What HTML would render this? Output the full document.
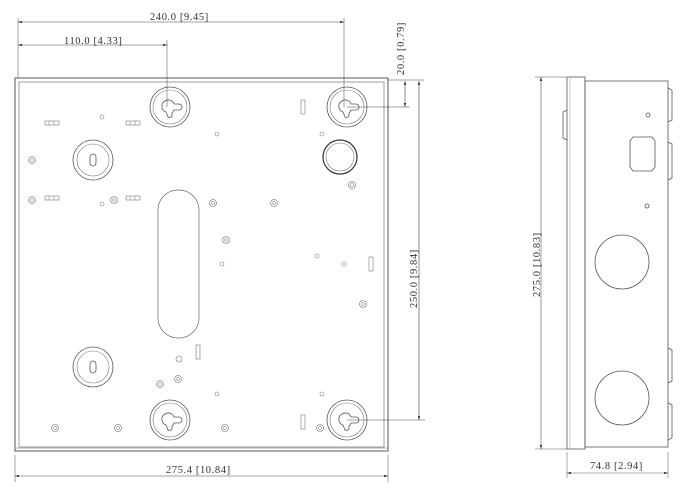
<!DOCTYPE html>
<html><head><meta charset="utf-8"><style>
html,body{margin:0;padding:0;background:#fff;width:700px;height:495px;overflow:hidden}
svg{display:block}
text{font-family:"Liberation Serif","DejaVu Serif",serif;font-size:10.5px;letter-spacing:0.6px;fill:#333}
</style></head><body>
<svg width="700" height="495" viewBox="0 0 700 495" xmlns="http://www.w3.org/2000/svg">
<defs>
<marker id="a" viewBox="0 0 10 6" refX="10" refY="3" markerWidth="7" markerHeight="4" orient="auto-start-reverse"><path d="M0 0L10 3L0 6z" fill="#333"/></marker>
<g id="kh"><circle r="20" fill="none" stroke="#555" stroke-width="0.8"/><circle r="17" fill="none" stroke="#777" stroke-width="0.6"/><path d="M-5 -6 A6 6 0 0 1 4 -3 L9 -3 A3 3 0 0 1 9 3 L4 3 A6 6 0 0 1 2 6 L2 9 A3 3 0 0 1 -2 10 L-4 5 A6 6 0 0 1 -5 -6z" fill="none" stroke="#555" stroke-width="0.8"/></g>
<g id="ov"><circle r="20" fill="none" stroke="#555" stroke-width="0.8"/><circle r="16" fill="none" stroke="#777" stroke-width="0.6"/><rect x="-3" y="-6" width="6" height="12" rx="3" fill="none" stroke="#555" stroke-width="0.8"/></g>
<g id="hx"><circle r="3.5" fill="none" stroke="#666" stroke-width="0.6"/><circle r="1.5" fill="none" stroke="#666" stroke-width="0.5"/></g>
<g id="sl"><rect x="-7" y="-2" width="14" height="4" fill="none" stroke="#777" stroke-width="0.6"/><line x1="-3" y1="-2" x2="-3" y2="2" stroke="#777" stroke-width="0.5"/><line x1="2" y1="-2" x2="2" y2="2" stroke="#777" stroke-width="0.5"/></g>
<g id="vs"><rect x="-2" y="-7" width="4" height="14" fill="none" stroke="#777" stroke-width="0.6"/></g>
</defs>
<g stroke="#444" stroke-width="0.7" fill="none">
<rect x="15" y="78" width="373" height="373" stroke="#555" stroke-width="1"/>
<rect x="19" y="82" width="365" height="365" stroke="#888" stroke-width="0.8"/>
<line x1="15" y1="448" x2="388" y2="448" stroke="#999"/>
<rect x="158" y="190" width="41" height="148" rx="20" stroke="#666"/>
<line x1="18" y1="22" x2="344" y2="22" marker-start="url(#a)" marker-end="url(#a)" stroke-width="0.6"/>
<line x1="18" y1="45" x2="167" y2="45" marker-start="url(#a)" marker-end="url(#a)" stroke-width="0.6"/>
<line x1="18" y1="18" x2="18" y2="78" stroke-width="0.5"/>
<line x1="344" y1="18" x2="344" y2="107" stroke-width="0.5"/>
<line x1="167" y1="40" x2="167" y2="107" stroke-width="0.5"/>
<line x1="388" y1="80" x2="424" y2="80" stroke-width="0.5"/>
<line x1="347" y1="107" x2="410" y2="107" stroke-width="0.5"/>
<line x1="347" y1="420" x2="425" y2="420" stroke-width="0.5"/>
<line x1="405" y1="81" x2="405" y2="107" marker-start="url(#a)" marker-end="url(#a)" stroke-width="0.6"/>
<line x1="419" y1="81" x2="419" y2="420" marker-start="url(#a)" marker-end="url(#a)" stroke-width="0.6"/>
<line x1="15" y1="455" x2="15" y2="482" stroke-width="0.5"/>
<line x1="388" y1="455" x2="388" y2="482" stroke-width="0.5"/>
<line x1="15" y1="476" x2="388" y2="476" marker-start="url(#a)" marker-end="url(#a)" stroke-width="0.6"/>
</g>
<use href="#kh" x="170" y="107"/><use href="#kh" x="347" y="107"/>
<use href="#kh" x="170" y="420"/><use href="#kh" x="347" y="420"/>
<use href="#ov" x="93" y="160"/><use href="#ov" x="93" y="367"/>
<circle cx="340" cy="157" r="17" fill="none" stroke="#333" stroke-width="1.2"/>
<circle cx="340" cy="157" r="14" fill="none" stroke="#777" stroke-width="0.6"/>
<use href="#hx" x="32" y="160"/><use href="#hx" x="32" y="200"/><use href="#hx" x="114" y="200"/>
<use href="#hx" x="213" y="203"/><use href="#hx" x="274" y="203"/><use href="#hx" x="352" y="185"/>
<use href="#hx" x="226" y="240"/><use href="#hx" x="363" y="304"/><use href="#hx" x="160" y="384"/>
<use href="#hx" x="55" y="428"/><use href="#hx" x="118" y="428"/><use href="#hx" x="225" y="428"/><use href="#hx" x="320" y="428"/>
<use href="#hx" x="178" y="379"/>
<g fill="none" stroke="#777" stroke-width="0.6">
<circle cx="102" cy="117" r="2"/><circle cx="217" cy="134" r="2"/><circle cx="322" cy="134" r="2"/><circle cx="102" cy="204" r="2"/>
<circle cx="222" cy="264" r="2"/><circle cx="317" cy="256" r="2"/><circle cx="344" cy="264" r="2"/><circle cx="179" cy="359" r="3"/>
<circle cx="217" cy="394" r="2"/><circle cx="322" cy="394" r="2"/></g>
<use href="#sl" x="52" y="123"/><use href="#sl" x="133" y="123"/><use href="#sl" x="52" y="198"/><use href="#sl" x="133" y="198"/>
<use href="#vs" x="303" y="107"/><use href="#vs" x="371" y="264"/><use href="#vs" x="198" y="352"/><use href="#vs" x="303" y="422"/>
<text x="150" y="20">240.0 [9.45]</text>
<text x="64" y="44">110.0 [4.33]</text>
<text transform="translate(404,75) rotate(-90)">20.0 [0.79]</text>
<text transform="translate(417,308) rotate(-90)">250.0 [9.84]</text>
<text x="166" y="473">275.4 [10.84]</text>
<g stroke="#555" stroke-width="0.8" fill="none">
<rect x="567" y="77" width="18" height="372"/>
<rect x="585" y="81" width="83" height="366"/>
<line x1="570" y1="77" x2="570" y2="449" stroke="#999" stroke-width="0.5"/>
<path d="M567 110 L563 112 L563 138 L567 140"/>
<path d="M668 88 L672 90 L672 120 L668 122"/><path d="M668 142 L672 144 L672 178 L668 180"/>
<path d="M668 348 L672 350 L672 381 L668 383"/><path d="M668 403 L672 405 L672 438 L668 440"/>
<path d="M633 137 L652 137 L655 141 L655 167 L652 171 L633 171 L630 167 L630 141z"/>
<circle cx="648" cy="115" r="2"/><circle cx="647" cy="206" r="2"/>
<circle cx="622" cy="262" r="27"/><circle cx="622" cy="398" r="27"/>
<line x1="535" y1="77" x2="567" y2="77" stroke-width="0.5"/>
<line x1="535" y1="449" x2="567" y2="449" stroke-width="0.5"/>
<line x1="541" y1="77" x2="541" y2="449" marker-start="url(#a)" marker-end="url(#a)" stroke-width="0.6"/>
<line x1="567" y1="452" x2="567" y2="478" stroke-width="0.5"/>
<line x1="668" y1="452" x2="668" y2="478" stroke-width="0.5"/>
<line x1="567" y1="473" x2="668" y2="473" marker-start="url(#a)" marker-end="url(#a)" stroke-width="0.6"/>
</g>
<text transform="translate(540,297) rotate(-90)">275.0 [10.83]</text>
<text x="590" y="469">74.8 [2.94]</text>
</svg>
</body></html>
